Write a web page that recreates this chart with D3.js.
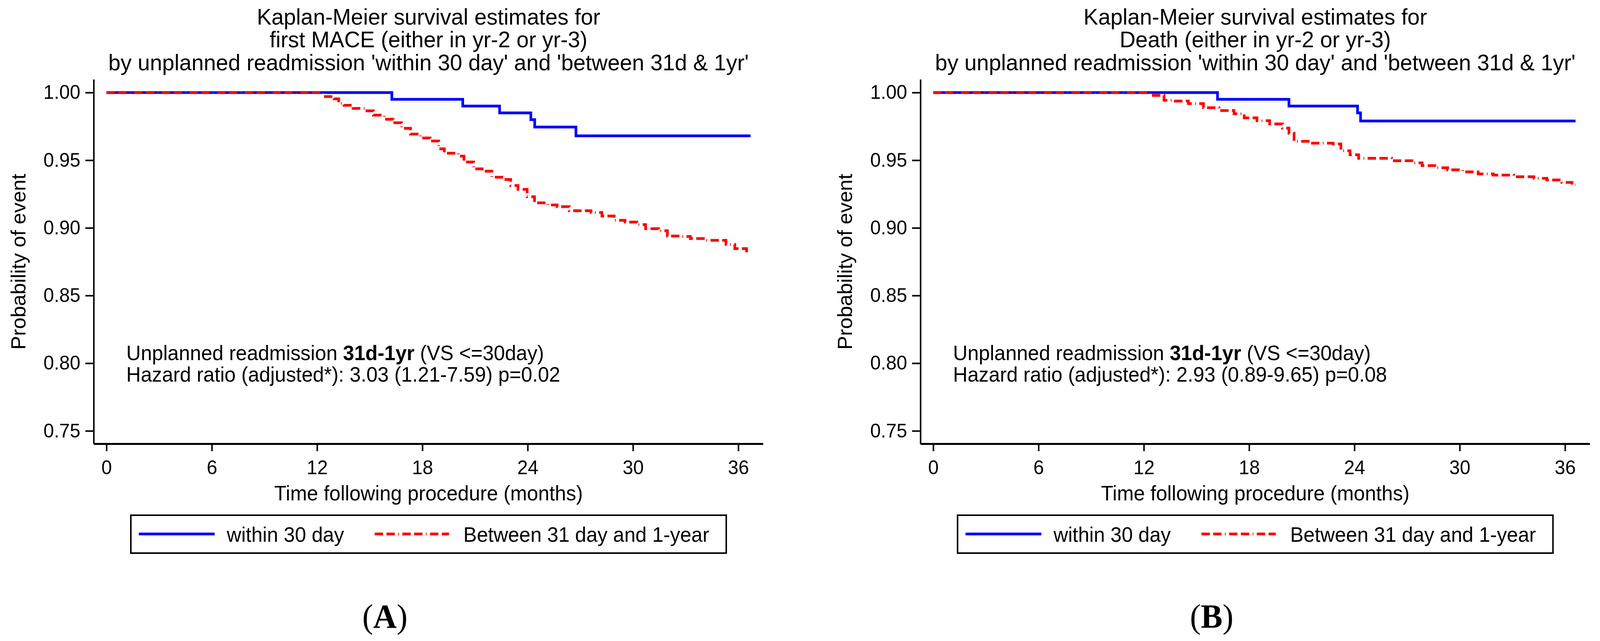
<!DOCTYPE html>
<html>
<head>
<meta charset="utf-8">
<script src="https://cdn.jsdelivr.net/npm/d3@7"></script>
<style>
  html, body { margin: 0; padding: 0; background: #fff; overflow: hidden; }
  svg { display: block; width: 100vw; height: 100vh; }
</style>
</head>
<body>
<script>
// ticks
var monthTicks = [0, 6, 12, 18, 24, 30, 36];
var probTicks = [0.75, 0.80, 0.85, 0.90, 0.95, 1.00];

// panel A : first MACE
var maceEarlyTime = [0, 16.26, 20.3, 22.4, 24.18, 24.4, 26.75, 36.7];
var maceEarlySurv = [1, 0.995, 0.990, 0.985, 0.980, 0.9745, 0.968, 0.968];

var maceLateTime = [0, 12.36, 12.97, 13.23, 13.53, 14.05, 14.72, 15.21, 15.83, 16.33,
	16.82, 17.32, 17.89, 18.44, 18.93, 19.25, 20.05, 20.37, 20.92, 21.41,
	21.96, 22.53, 23.03, 23.45, 23.97, 24.39, 25.14, 25.68, 26.37, 27.61,
	28.23, 28.93, 29.55, 30.22, 30.72, 31.46, 31.96, 32.7, 33.27, 34.01,
	35.3, 35.8, 36.47, 36.7];
var maceLateSurv = [1, 0.997, 0.9954, 0.992, 0.9906, 0.9883, 0.9865, 0.9833, 0.9803, 0.9777,
	0.9736, 0.9693, 0.9664, 0.9642, 0.9584, 0.9552, 0.953, 0.9487, 0.9436, 0.9419,
	0.9374, 0.9358, 0.9313, 0.9285, 0.923, 0.9185, 0.9169, 0.9157, 0.9127, 0.9114,
	0.9088, 0.9056, 0.9043, 0.9024, 0.8994, 0.8979, 0.894, 0.8936, 0.8921, 0.8908,
	0.8878, 0.8847, 0.883, 0.883];

// panel B : death
var deathEarlyTime = [0, 16.2, 20.27, 24.18, 24.35, 36.6];
var deathEarlySurv = [1, 0.995, 0.990, 0.985, 0.979, 0.979];

var deathLateTime = [0, 12.37, 13.15, 13.67, 14.54, 15.4, 16.28, 17.14, 17.72, 18.45,
	19.17, 19.9, 20.27, 20.56, 21.49, 22.79, 23.23, 23.75, 24.24, 26.12,
	27.28, 27.86, 28.58, 29.31, 30.18, 31.05, 31.91, 33.07, 34.23, 34.96,
	35.82, 36.4, 36.6];
var deathLateSurv = [1, 0.9979, 0.9943, 0.9937, 0.9918, 0.9888, 0.9867, 0.9843, 0.9813, 0.9792,
	0.9768, 0.9737, 0.970, 0.964, 0.9626, 0.962, 0.957, 0.954, 0.9514, 0.9496,
	0.948, 0.946, 0.9444, 0.9429, 0.9414, 0.9399, 0.939, 0.9378, 0.9366, 0.9354,
	0.9336, 0.9318, 0.9318];

var seriesNames = ["within 30 day", "Between 31 day and 1-year"];

var W = 4219, H = 1641;
var sans = "'Liberation Sans', Arial, sans-serif";
var serif = "'Liberation Serif', 'Times New Roman', serif";
var blue = "#0000ff", red = "#ff0000";
var redDash = "22,9,22,9,2,9";

// viewBox so the whole figure fits whatever the real viewport is
var svg = d3.select("body").append("svg")
	.attr("viewBox", "0 0 " + W + " " + H)
	.attr("preserveAspectRatio", "none");

var zip = function(t, s) {
	return t.map(function(d, i) { return [d, s[i]]; });
};

var drawPanel = function(dx, p) {

	var g = svg.append("g")
		.attr("transform", "translate(" + dx + ",0)");

	var x = d3.scaleLinear().domain([-0.73, 37.41]).range([247, 2012]);
	var y = d3.scaleLinear().domain([0.7405, 1.0098]).range([1136, 203]);

	// title
	var title = g.append("text")
		.attr("text-anchor", "middle")
		.attr("font-family", sans)
		.attr("font-size", 58);
	p.title.forEach(function(t, i) {
		title.append("tspan").attr("x", 1130).attr("y", 63 + i * 58.5).text(t);
	});

	// axes
	var yAxis = d3.axisLeft(y)
		.tickValues(probTicks)
		.tickFormat(d3.format(".2f"))
		.tickSizeInner(22)
		.tickSizeOuter(0)
		.tickPadding(13);

	var ya = g.append("g")
		.attr("transform", "translate(247,0)")
		.call(yAxis)
		.attr("font-family", sans)
		.attr("font-size", 50);
	ya.select(".domain").attr("stroke-width", 4);
	ya.selectAll(".tick line").attr("stroke-width", 4);

	var xAxis = d3.axisBottom(x)
		.tickValues(monthTicks)
		.tickSizeInner(19)
		.tickSizeOuter(0)
		.tickPadding(24);

	var xa = g.append("g")
		.attr("transform", "translate(0,1136)")
		.call(xAxis)
		.attr("font-family", sans)
		.attr("font-size", 50);
	xa.select(".domain").attr("stroke-width", 5);
	xa.selectAll(".tick line").attr("stroke-width", 4);

	// axis titles
	g.append("text")
		.attr("transform", "translate(67,670) rotate(-90)")
		.attr("text-anchor", "middle")
		.attr("font-family", sans)
		.attr("font-size", 53)
		.text("Probability of event");

	g.append("text")
		.attr("x", 1130)
		.attr("y", 1281)
		.attr("text-anchor", "middle")
		.attr("font-family", sans)
		.attr("font-size", 53)
		.text("Time following procedure (months)");

	// KM curves
	var line = d3.line()
		.x(function(d) { return x(d[0]); })
		.y(function(d) { return y(d[1]); })
		.curve(d3.curveStepAfter);

	g.append("path")
		.datum(zip(p.earlyTime, p.earlySurv))
		.attr("d", line)
		.attr("fill", "none")
		.attr("stroke", blue)
		.attr("stroke-width", 7);

	g.append("path")
		.datum(zip(p.lateTime, p.lateSurv))
		.attr("d", line)
		.attr("fill", "none")
		.attr("stroke", red)
		.attr("stroke-width", 7)
		.attr("stroke-dasharray", redDash);

	// annotation
	var note = g.append("text")
		.attr("font-family", sans)
		.attr("font-size", 53);
	var l1 = note.append("tspan").attr("x", 333).attr("y", 922);
	l1.append("tspan").text("Unplanned readmission ");
	l1.append("tspan").attr("font-weight", "bold").text("31d-1yr");
	l1.append("tspan").text(" (VS <=30day)");
	note.append("tspan").attr("x", 333).attr("y", 977).text(p.hr);

	// legend
	var lg = g.append("g");
	lg.append("rect")
		.attr("x", 345).attr("y", 1319)
		.attr("width", 1570).attr("height", 97)
		.attr("fill", "none")
		.attr("stroke", "#000")
		.attr("stroke-width", 4);
	lg.append("line")
		.attr("x1", 366).attr("x2", 566).attr("y1", 1367).attr("y2", 1367)
		.attr("stroke", blue).attr("stroke-width", 7);
	lg.append("line")
		.attr("x1", 988).attr("x2", 1184).attr("y1", 1367).attr("y2", 1367)
		.attr("stroke", red).attr("stroke-width", 7)
		.attr("stroke-dasharray", redDash);
	lg.selectAll("text.leg")
		.data(seriesNames)
		.enter()
		.append("text")
		.attr("class", "leg")
		.attr("x", function(d, i) { return i == 0 ? 598 : 1222; })
		.attr("y", 1387)
		.attr("font-family", sans)
		.attr("font-size", 53)
		.text(function(d) { return d; });

	// panel letter
	var lab = g.append("text")
		.attr("x", 1015)
		.attr("y", 1607)
		.attr("text-anchor", "middle")
		.attr("font-family", serif)
		.attr("font-size", 86);
	lab.append("tspan").text("(");
	lab.append("tspan").attr("font-weight", "bold").text(p.letter);
	lab.append("tspan").text(")");
};

drawPanel(0, {
	title: ["Kaplan-Meier survival estimates for",
		"first MACE (either in yr-2 or yr-3)",
		"by unplanned readmission 'within 30 day' and 'between 31d & 1yr'"],
	earlyTime: maceEarlyTime, earlySurv: maceEarlySurv,
	lateTime: maceLateTime, lateSurv: maceLateSurv,
	hr: "Hazard ratio (adjusted*): 3.03 (1.21-7.59) p=0.02",
	letter: "A"
});

drawPanel(2180, {
	title: ["Kaplan-Meier survival estimates for",
		"Death (either in yr-2 or yr-3)",
		"by unplanned readmission 'within 30 day' and 'between 31d & 1yr'"],
	earlyTime: deathEarlyTime, earlySurv: deathEarlySurv,
	lateTime: deathLateTime, lateSurv: deathLateSurv,
	hr: "Hazard ratio (adjusted*): 2.93 (0.89-9.65) p=0.08",
	letter: "B"
});
</script>
</body>
</html>
